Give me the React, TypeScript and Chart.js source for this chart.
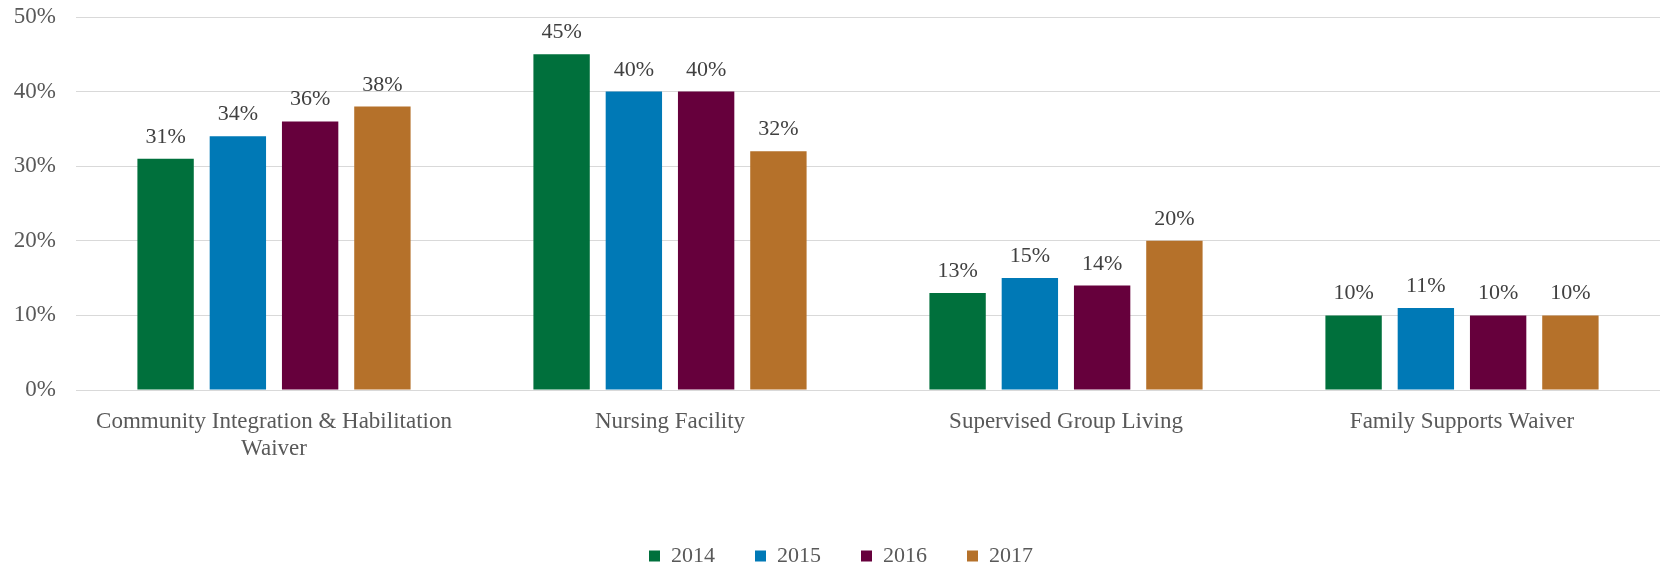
import React, { useEffect, useRef } from "react";
import { Chart, registerables } from "chart.js";

Chart.register(...registerables);

const categories: (string | string[])[] = [
  ["Community Integration & Habilitation", "Waiver"],
  "Nursing Facility",
  "Supervised Group Living",
  "Family Supports Waiver",
];
const seriesNames = ["2014", "2015", "2016", "2017"];
const values2014 = [31, 45, 13, 10];
const values2015 = [34, 40, 15, 11];
const values2016 = [36, 40, 14, 10];
const values2017 = [38, 32, 20, 10];
const seriesColors = ["#00703C", "#0079B6", "#66003C", "#B5712A"];
const yTicks = [0, 10, 20, 30, 40, 50];

const FONT = "'Liberation Serif', 'Times New Roman', serif";
const TEXT = "#595959";
const FS = 22;
const AXIS_FS = 23;

const valueLabels = {
  id: "valueLabels",
  afterDatasetsDraw(chart: any) {
    const ctx = chart.ctx;
    ctx.save();
    ctx.font = `${FS}px ${FONT}`;
    ctx.fillStyle = "#404040";
    ctx.textAlign = "center";
    ctx.textBaseline = "alphabetic";
    chart.data.datasets.forEach((ds: any, i: number) => {
      const meta = chart.getDatasetMeta(i);
      meta.data.forEach((bar: any, j: number) => {
        ctx.fillText(`${ds.data[j]}%`, bar.x, bar.y - 16);
      });
    });
    ctx.restore();
  },
};

// nudge the legend slightly right, as in the reference
const legendShift = {
  id: "legendShift",
  afterLayout(chart: any) {
    if (chart.legend) {
      chart.legend.left += 11;
      chart.legend.right += 11;
    }
  },
};

export default function App() {
  const ref = useRef<HTMLCanvasElement>(null);
  useEffect(() => {
    document.body.style.margin = "0";
    const all = [values2014, values2015, values2016, values2017];
    const chart = new Chart(ref.current!, {
      type: "bar",
      data: {
        labels: categories,
        datasets: seriesNames.map((name, i) => ({
          label: name,
          data: all[i],
          backgroundColor: seriesColors[i],
          categoryPercentage: 0.73,
          barPercentage: 0.78,
        })),
      },
      options: {
        animation: false,
        responsive: false,
        devicePixelRatio: 1,
        layout: { padding: { top: 17, right: 1, bottom: -11, left: 0 } },
        plugins: {
          legend: {
            position: "bottom",
            labels: {
              font: { family: FONT, size: FS },
              color: TEXT,
              boxWidth: 11,
              boxHeight: 11,
              padding: 40,
            },
          },
          tooltip: { enabled: false },
        },
        scales: {
          x: {
            grid: { display: false },
            border: { display: false },
            ticks: {
              font: { family: FONT, size: AXIS_FS, lineHeight: 1.2 },
              color: TEXT,
              maxRotation: 0,
              autoSkip: false,
              padding: 10,
            },
            afterFit: (s: any) => {
              s.height = 115;
            },
          },
          y: {
            min: 0,
            max: 50,
            afterBuildTicks: (s: any) => {
              s.ticks = yTicks.map((v) => ({ value: v }));
            },
            grid: { color: "#D9D9D9", lineWidth: 1, drawTicks: false },
            border: { display: false },
            ticks: {
              font: { family: FONT, size: AXIS_FS },
              color: TEXT,
              padding: 20,
              callback: (v: any) => `${v}%`,
            },
            afterFit: (s: any) => {
              s.width = 76;
              s.paddingTop = 0;
              s.paddingBottom = 0;
            },
          },
        },
      },
      plugins: [valueLabels, legendShift],
    });
    return () => chart.destroy();
  }, []);
  return (
    <div style={{ width: 1661, height: 566 }}>
      <canvas ref={ref} width={1661} height={566} style={{ display: "block" }} />
    </div>
  );
}
